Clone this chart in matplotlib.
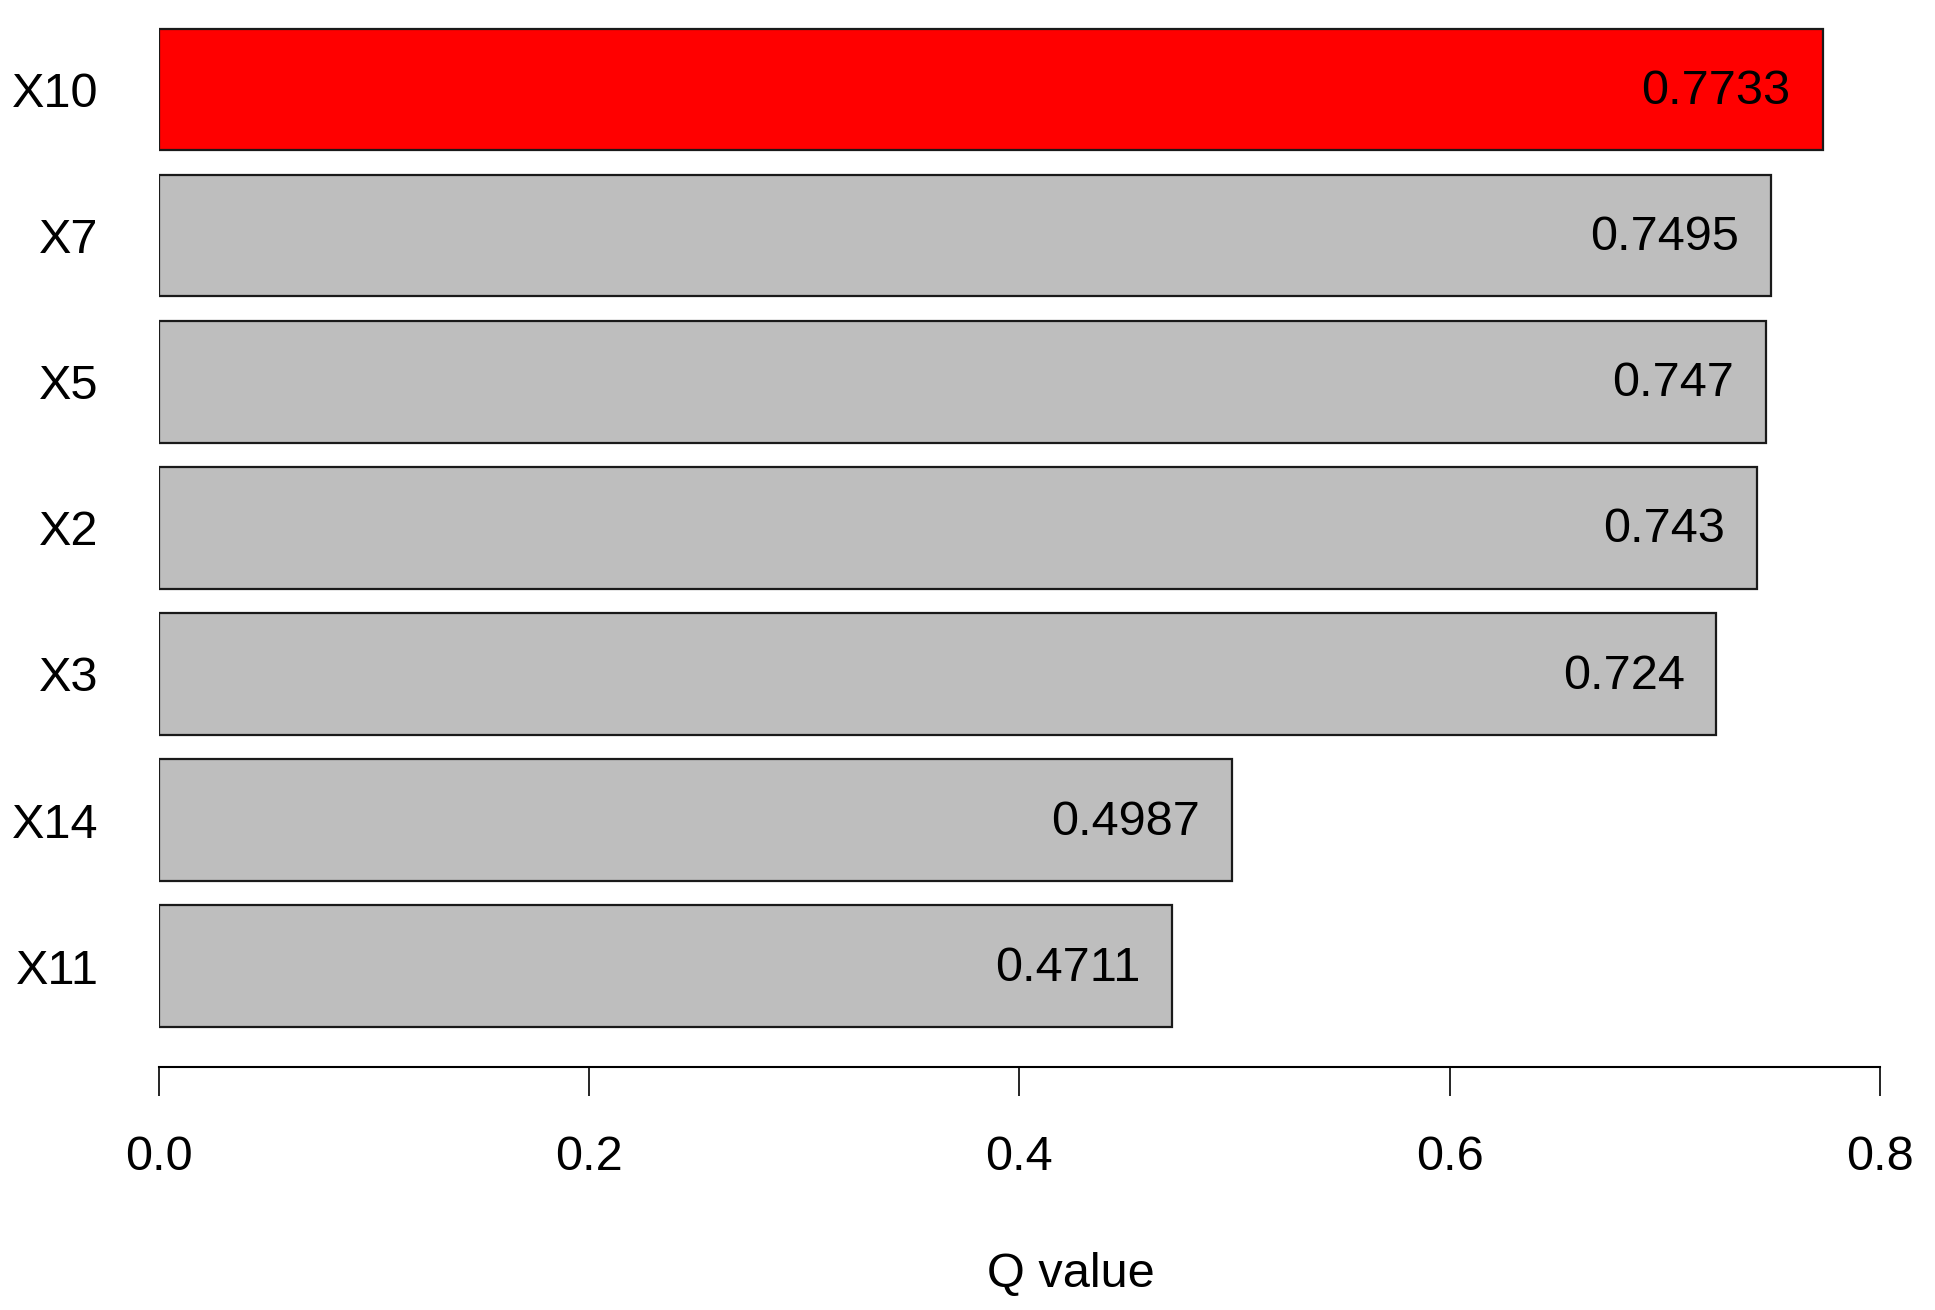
import matplotlib
matplotlib.use("Agg")
import matplotlib.pyplot as plt

# data, top to bottom as in the chart
labels = ["X10", "X7", "X5", "X2", "X3", "X14", "X11"]
q_values = [0.7733, 0.7495, 0.747, 0.743, 0.724, 0.4987, 0.4711]
value_text = ["0.7733", "0.7495", "0.747", "0.743", "0.724", "0.4987", "0.4711"]
colors = ["#FF0000", "#BEBEBE", "#BEBEBE", "#BEBEBE", "#BEBEBE", "#BEBEBE", "#BEBEBE"]
xticks = [0.0, 0.2, 0.4, 0.6, 0.8]

plt.rcParams['font.family'] = ['Liberation Sans', 'DejaVu Sans']

W, H = 1935, 1310
fig = plt.figure(figsize=(W / 100, H / 100), dpi=100)

# axes placed in pixel units: x=0 at 158.5px, x=0.8 at 1880px, bottom axis line at 1067px
left = 158.5 / W
right = 1880 / W
bottom = 1 - 1067 / H
ax = fig.add_axes([left, bottom, right - left, 1 - bottom])

n = len(labels)
ypos = list(range(n - 1, -1, -1))
ax.barh(ypos, q_values, height=0.8333, color=colors, edgecolor="#1a1a1a", linewidth=1.6)

for y, v, t in zip(ypos, q_values, value_text):
    ax.annotate(t, xy=(v, y), xytext=(-23, -1.5), textcoords="offset points",
                ha="right", va="center", fontsize=35)

ax.set_xlim(0, 0.8)
ax.set_ylim(-0.69, 6.612)
ax.set_xticks(xticks)
ax.set_xticklabels(["%.1f" % t for t in xticks])
ax.set_yticks(ypos)
ax.set_yticklabels(labels, va="center_baseline")

ax.tick_params(axis="x", length=21, width=1.2, pad=28, labelsize=35, direction="out")
ax.tick_params(axis="y", length=0, pad=43, labelsize=35)

for s in ["top", "right", "left"]:
    ax.spines[s].set_visible(False)
ax.spines["bottom"].set_linewidth(1.5)
ax.spines["bottom"].set_bounds(0, 0.8)
ax.patch.set_alpha(0)

fig.text(1071 / W, 1 - 1274 / H, "Q value", ha="center", va="center", fontsize=35)

fig.savefig("out.png", dpi=100, facecolor="white")
